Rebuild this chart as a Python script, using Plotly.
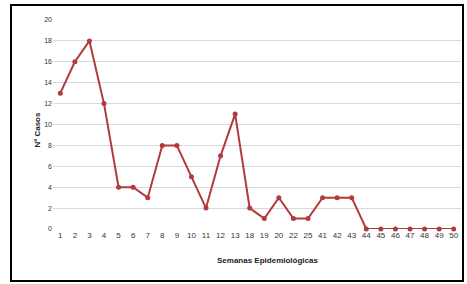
import plotly.graph_objects as go

semanas = ["1","2","3","4","5","6","7","8","9","10","11","12","13","18","19","20","22","25",
           "41","42","43","44","45","46","47","48","49","50"]
casos = [13,16,18,12,4,4,3,8,8,5,2,7,11,2,1,3,1,1,3,3,3,0,0,0,0,0,0,0]
y_ticks = [0,2,4,6,8,10,12,14,16,18,20]

L, R, T, B = 53, 6, 20, 55
W, H = 467, 284
pw, ph = W - L - R, H - T - B

def px(x):
    return (x - L) / pw

def py(y):
    return (H - B - y) / ph

fig = go.Figure()
fig.add_trace(go.Scatter(
    x=semanas, y=casos, mode="lines+markers",
    line=dict(color="#b23a3c", width=2),
    marker=dict(color="#b23a3c", size=5),
    cliponaxis=False,
))
fig.update_layout(
    width=W, height=H,
    margin=dict(l=L, r=R, t=T, b=B, autoexpand=False),
    paper_bgcolor="white", plot_bgcolor="white",
    showlegend=False,
    font=dict(family="Liberation Sans, Arial", size=8, color="#444"),
    xaxis=dict(type="category", range=[-0.5, len(semanas) - 0.5], autorange=False,
               showgrid=False, zeroline=False, showline=False, automargin=False,
               ticks="", tickfont=dict(size=8, color="#333")),
    yaxis=dict(range=[0, 20], autorange=False, tickvals=y_ticks, showgrid=True,
               gridcolor="#d9d9d9", gridwidth=1,
               zeroline=False, showline=False, ticks="", automargin=False,
               tickfont=dict(size=7, color="#333")),
)
fig.add_annotation(text="<b>Semanas Epidemiológicas</b>", xref="paper", yref="paper",
                   x=px(267), y=py(267), showarrow=False, font=dict(size=8, color="#222"))
fig.add_annotation(text="<b>Nº Casos</b>", xref="paper", yref="paper", textangle=-90,
                   x=px(30), y=py(130), showarrow=False, font=dict(size=8, color="#222"))
fig.add_shape(type="rect", xref="paper", yref="paper",
              x0=px(11), x1=px(463), y0=py(281), y1=py(5),
              line=dict(color="black", width=2), fillcolor="rgba(0,0,0,0)", layer="above")
fig.write_html("out.html", config={"displayModeBar": False},
               post_script="document.body.style.margin='0';document.body.style.overflow='hidden';")
